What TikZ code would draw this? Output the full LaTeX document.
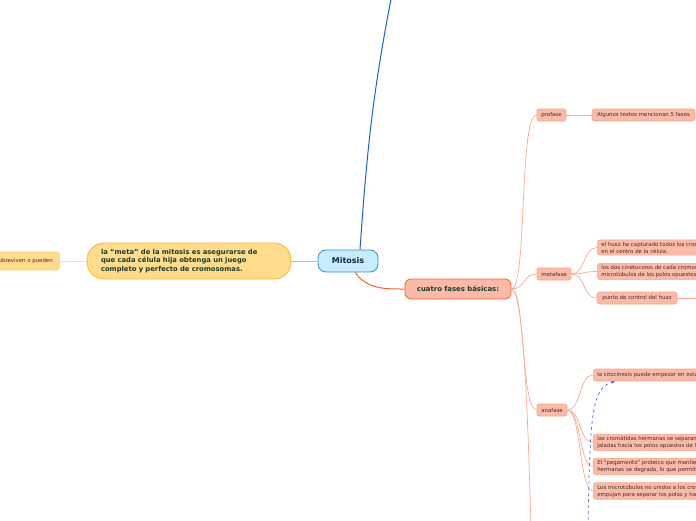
\documentclass[tikz,border=0pt]{standalone}
\usepackage{fontspec}
\setmainfont{DejaVu Sans}
\usepackage{tikz}
\usetikzlibrary{arrows.meta, positioning, calc}

\definecolor{mitfill}{HTML}{C7ECFB}
\definecolor{mitline}{HTML}{2C8FD8}
\definecolor{mittext}{HTML}{14284B}
\definecolor{metafill}{HTML}{FEDC8C}
\definecolor{metaline}{HTML}{F6B92B}
\definecolor{metaleaf}{HTML}{FCD27C}
\definecolor{deeptext}{HTML}{1E3B2C}
\definecolor{fasefill}{HTML}{F9BBA8}
\definecolor{faseline}{HTML}{F0602D}
\definecolor{leafline}{HTML}{F8A48A}
\definecolor{branch}{HTML}{F9A98F}
\definecolor{leaftext}{HTML}{4A2C22}
\definecolor{blueline}{HTML}{1563D6}
\definecolor{dashblue}{HTML}{4A6CF0}

\begin{document}
\begin{tikzpicture}[x=1pt, y=-1pt,
  central/.style={rectangle, draw=mitline, fill=mitfill, rounded corners=8pt,
                  line width=0.8pt, minimum width=60pt, minimum height=22pt,
                  text=mittext, font=\fontsize{8}{9}\selectfont\bfseries},
  goalbox/.style={rectangle, draw=metaline, fill=metafill, rounded corners=17pt,
                  line width=0.8pt, text width=176pt, inner xsep=14pt,
                  minimum height=36pt, align=left, text=deeptext,
                  font=\fontsize{6.8}{8.6}\selectfont\bfseries},
  goalleaf/.style={rectangle, draw=metaleaf, fill=metafill, rounded corners=3pt,
                  line width=0.6pt, minimum height=18pt, inner xsep=7pt,
                  text=leaftext, font=\fontsize{5.4}{6}\selectfont},
  fasebox/.style={rectangle, draw=faseline, fill=fasefill, rounded corners=6pt,
                  line width=0.8pt, minimum width=106pt, minimum height=20pt,
                  text=deeptext, font=\fontsize{6.9}{8}\selectfont\bfseries},
  phase/.style={rectangle, draw=leafline, fill=fasefill, rounded corners=2pt,
                  line width=0.6pt, minimum height=12pt, inner xsep=4pt,
                  inner ysep=1pt, text=leaftext, font=\fontsize{5.4}{6}\selectfont},
  leaf/.style={rectangle, draw=leafline, fill=fasefill, rounded corners=2.5pt,
                  line width=0.6pt, minimum height=12pt, inner xsep=4pt,
                  inner ysep=2pt, align=left, text=leaftext,
                  font=\fontsize{5.4}{7}\selectfont},
  mainlink/.style={line width=1pt},
  twig/.style={draw=branch, line width=0.7pt},
  dasharrow/.style={draw=dashblue, dashed, line width=0.7pt,
                  -{Stealth[length=4pt, width=3pt]}}
]
\useasboundingbox (0,0) rectangle (696,520);

%% --- Centre ---
\node[central] (mitosis) at (348,261) {Mitosis};

%% --- Goal (left) ---
\node[goalbox] (goal) at (189,261)
    {la “meta” de la mitosis es asegurarse de\\
     que cada célula hija obtenga un juego\\
     completo y perfecto de cromosomas.};
\node[goalleaf, anchor=east] (survive) at (60,261) {sobreviven o pueden};

%% --- Four phases (right) ---
\node[fasebox] (fases) at (458,289) {cuatro fases básicas:};

\node[phase, minimum width=29pt] (profase) at (551.5,115) {profase};
\node[phase, minimum width=34pt] (metafase) at (554,274) {metafase};
\node[phase, minimum width=30pt] (anafase) at (552,410) {anafase};

%% --- Leaves of profase / metafase ---
\node[leaf, minimum width=103pt] (cinco) at (643.5,115)
    {Algunos textos mencionan 5 fases};
\node[leaf, anchor=west] (huso) at (597,247.5)
    {el huso ha capturado todos los cromosomas y los ha alineado\\
     en el centro de la célula.};
\node[leaf, anchor=west] (cineto) at (597,271.5)
    {los dos cinetocoros de cada cromosoma deben estar unidos a\\
     microtúbulos de los polos opuestos del huso.};
\node[leaf, minimum width=80pt] (control) at (637,298)
    {punto de control del huso};

%% --- Leaves of anafase ---
\node[leaf, anchor=west] (cito) at (593,375)
    {la citocinesis puede empezar en esta etapa};
\node[leaf, anchor=west] (separan) at (593,442.5)
    {las cromátidas hermanas se separan una de otra y son\\
     jaladas hacia los polos opuestos de la célula.};
\node[leaf, anchor=west] (pegamento) at (593,466.5)
    {El “pegamento” proteico que mantiene juntas a las cromátidas\\
     hermanas se degrada, lo que permite que se separen.};
\node[leaf, anchor=west] (alargan) at (593,491)
    {Los microtúbulos no unidos a los cromosomas se alargan y\\
     empujan para separar los polos y hacer la célula más larga.};

%% --- Loose ends beyond the page ---
\coordinate (upper) at (392,-6);
\coordinate (telofase) at (531,526);
\coordinate (controlend) at (700,298);
\coordinate (dashstart) at (588,526);

%% --- Centre links ---
\draw[mainlink, blueline] (mitosis.north) ++(12,0) coordinate (mtop)
    (mtop) to[out=86, in=-101] (upper);
\draw[mainlink, metaline] (mitosis.west) -- (goal.east);
\draw[metaleaf!70, line width=0.8pt] (goal.west) -- (survive.east);
\draw[mainlink, faseline!90!orange] (mitosis.-58) to[out=-55, in=180] (fases.west);

%% --- Four phases -> phases ---
\draw[twig] (fases.east) .. controls +(16,0) and +(-18,0) .. (profase.west);
\draw[twig] (fases.east) .. controls +(14,0) and +(-14,0) .. (metafase.west);
\draw[twig] (fases.east) .. controls +(14,0) and +(-16,0) .. (anafase.west);
\draw[twig] (fases.east) .. controls +(14,0) and +(-2,-60) .. (telofase);

%% --- Phases -> leaves ---
\draw[twig] (profase.east) -- (cinco.west);
\draw[twig] (metafase.east) .. controls +(14,0) and +(-14,0) .. (huso.west);
\draw[twig] (metafase.east) .. controls +(14,0) and +(-14,0) .. (cineto.west);
\draw[twig] (metafase.east) .. controls +(14,0) and +(-14,0) .. (control.west);
\draw[twig] (control.east) -- (controlend);
\draw[twig] (anafase.east) .. controls +(14,0) and +(-14,0) .. (cito.west);
\draw[twig] (anafase.east) .. controls +(14,0) and +(-14,0) .. (separan.west);
\draw[twig] (anafase.east) .. controls +(14,0) and +(-14,0) .. (pegamento.west);
\draw[twig] (anafase.east) .. controls +(14,0) and +(-14,0) .. (alargan.west);

%% --- Dashed relation up to citocinesis ---
\draw[dasharrow] (dashstart) .. controls (590,410) and (592,388)
    .. ($(cito.south west)+(22,0)$);

\end{tikzpicture}
\end{document}
